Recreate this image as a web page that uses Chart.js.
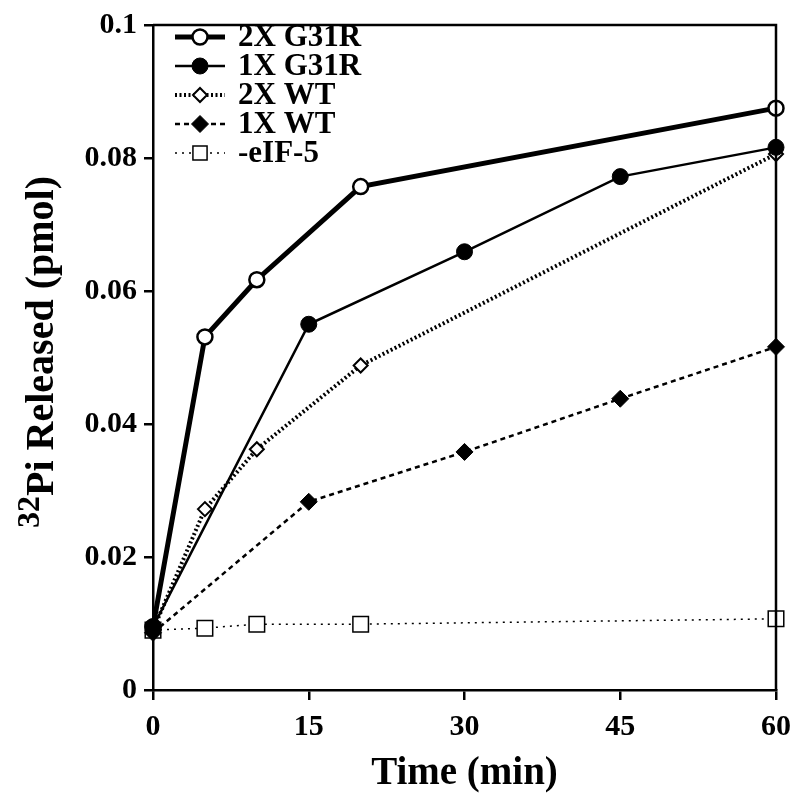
<!DOCTYPE html>
<html>
<head>
<meta charset="utf-8">
<script src="https://cdn.jsdelivr.net/npm/chart.js@4/dist/chart.umd.min.js"></script>
<style>
  html, body { margin: 0; padding: 0; background: #fff; }
  #wrap { width: 800px; height: 799px; position: relative; }
</style>
</head>
<body>
<div id="wrap"><canvas id="chart"></canvas></div>
<script>
// values (time in min, Pi in pmol)
const times2xG31R = [0, 5, 10, 20, 60]
const vals2xG31R = [0.0095, 0.0531, 0.0617, 0.0757, 0.0875]
const times1xG31R = [0, 15, 30, 45, 60]
const vals1xG31R = [0.0095, 0.055, 0.0659, 0.0772, 0.0816]
const times2xWT = [0, 5, 10, 20, 60]
const vals2xWT = [0.009, 0.0272, 0.0362, 0.0488, 0.0806]
const times1xWT = [0, 15, 30, 45, 60]
const vals1xWT = [0.0086, 0.0283, 0.0358, 0.0438, 0.0516]
const timesNoEIF = [0, 5, 10, 20, 60]
const valsNoEIF = [0.009, 0.0093, 0.0099, 0.0099, 0.0107]

const xTicks = [0, 15, 30, 45, 60]
const yTicks = [0, 0.02, 0.04, 0.06, 0.08, 0.1]

const serif = '"Liberation Serif", "Times New Roman", serif'

const pts = (xs, ys) => xs.map((x, i) => ({ x: x, y: ys[i] }))

const datasets = [
  {
    label: '2X G31R',
    data: pts(times2xG31R, vals2xG31R),
    order: 2,
    borderColor: '#000',
    borderWidth: 5,
    pointStyle: 'circle',
    pointRadius: 7.5,
    pointBackgroundColor: '#fff',
    pointBorderColor: '#000',
    pointBorderWidth: 2.5
  },
  {
    label: '1X G31R',
    data: pts(times1xG31R, vals1xG31R),
    order: 0,
    borderColor: '#000',
    borderWidth: 2.5,
    pointStyle: 'circle',
    pointRadius: 8,
    pointBackgroundColor: '#000',
    pointBorderColor: '#000',
    pointBorderWidth: 1
  },
  {
    label: '2X WT',
    data: pts(times2xWT, vals2xWT),
    order: 3,
    borderColor: '#000',
    borderWidth: 4,
    borderDash: [2, 2.5],
    pointStyle: 'rectRot',
    pointRadius: 7,
    pointBackgroundColor: '#fff',
    pointBorderColor: '#000',
    pointBorderWidth: 2
  },
  {
    label: '1X WT',
    data: pts(times1xWT, vals1xWT),
    order: 1,
    borderColor: '#000',
    borderWidth: 2.5,
    borderDash: [5, 4],
    pointStyle: 'rectRot',
    pointRadius: 8.5,
    pointBackgroundColor: '#000',
    pointBorderColor: '#000',
    pointBorderWidth: 1
  },
  {
    label: '-eIF-5',
    data: pts(timesNoEIF, valsNoEIF),
    order: 4,
    borderColor: '#000',
    borderWidth: 1.5,
    borderDash: [2, 5],
    pointStyle: 'rect',
    pointRadius: 11,
    pointBackgroundColor: '#fff',
    pointBorderColor: '#000',
    pointBorderWidth: 1.5
  }
]

// top/right frame, axis titles and the line+marker legend
const decor = {
  id: 'decor',
  afterDatasetsDraw(chart) {
    const ctx = chart.ctx
    const a = chart.chartArea
    ctx.save()
    ctx.strokeStyle = '#000'
    ctx.lineWidth = 2.5
    ctx.beginPath()
    ctx.moveTo(a.left, a.top)
    ctx.lineTo(a.right, a.top)
    ctx.lineTo(a.right, a.bottom)
    ctx.stroke()

    // legend
    chart.data.datasets.forEach((ds, i) => {
      const y = 37 + i * 29
      ctx.save()
      ctx.strokeStyle = '#000'
      ctx.lineWidth = ds.borderWidth
      ctx.setLineDash(ds.borderDash || [])
      ctx.beginPath()
      ctx.moveTo(175, y)
      ctx.lineTo(225, y)
      ctx.stroke()
      ctx.setLineDash([])
      ctx.fillStyle = ds.pointBackgroundColor
      ctx.strokeStyle = ds.pointBorderColor
      ctx.lineWidth = ds.pointBorderWidth
      Chart.helpers.drawPoint(ctx, {
        pointStyle: ds.pointStyle,
        radius: ds.pointStyle === 'rect' ? 10 : ds.pointRadius,
        borderWidth: ds.pointBorderWidth,
        rotation: 0
      }, 200, y)
      ctx.restore()
      ctx.fillStyle = '#000'
      ctx.font = 'bold 31px ' + serif
      ctx.textAlign = 'left'
      ctx.textBaseline = 'middle'
      ctx.fillText(ds.label, 238, y + 1)
    })

    // x title
    ctx.fillStyle = '#000'
    ctx.font = 'bold 39px ' + serif
    ctx.textAlign = 'center'
    ctx.textBaseline = 'middle'
    ctx.fillText('Time (min)', (a.left + a.right) / 2, 774)

    // y title with superscript 32
    ctx.save()
    ctx.translate(40, 352)
    ctx.rotate(-Math.PI / 2)
    const supFont = 'bold 32px ' + serif
    const mainFont = 'bold 40px ' + serif
    const sup = '32'
    const rest = 'Pi Released (pmol)'
    ctx.font = supFont
    const wSup = ctx.measureText(sup).width
    ctx.font = mainFont
    const wRest = ctx.measureText(rest).width
    const x0 = -(wSup + wRest) / 2
    ctx.textAlign = 'left'
    ctx.textBaseline = 'middle'
    ctx.font = supFont
    ctx.fillText(sup, x0, -9)
    ctx.font = mainFont
    ctx.fillText(rest, x0 + wSup, 3)
    ctx.restore()
    ctx.restore()
  }
}

new Chart(document.getElementById('chart'), {
  type: 'line',
  data: { datasets: datasets },
  options: {
    responsive: true,
    maintainAspectRatio: false,
    animation: false,
    layout: { padding: { top: 16, right: 17, left: 0, bottom: 0 } },
    plugins: {
      legend: { display: false },
      tooltip: { enabled: false }
    },
    elements: { line: { tension: 0, fill: false } },
    datasets: { line: { clip: false } },
    scales: {
      x: {
        type: 'linear',
        min: 0,
        max: 60,
        afterFit: (s) => { s.height = 109 },
        afterBuildTicks: (s) => { s.ticks = xTicks.map(v => ({ value: v })) },
        ticks: {
          color: '#000',
          padding: 9,
          font: { family: serif, size: 30, weight: 'bold' }
        },
        grid: { drawOnChartArea: false, drawTicks: true, tickLength: 10, color: '#000', lineWidth: 2.5 },
        border: { color: '#000', width: 2.5 }
      },
      y: {
        type: 'linear',
        min: 0,
        max: 0.1,
        afterFit: (s) => { s.width = 153 },
        afterBuildTicks: (s) => { s.ticks = yTicks.map(v => ({ value: v })) },
        ticks: {
          color: '#000',
          padding: 7,
          font: { family: serif, size: 30, weight: 'bold' },
          callback: (v) => String(+Number(v).toFixed(2))
        },
        grid: { drawOnChartArea: false, drawTicks: true, tickLength: 9, color: '#000', lineWidth: 2.5 },
        border: { color: '#000', width: 2.5 }
      }
    }
  },
  plugins: [decor]
})
</script>
</body>
</html>
